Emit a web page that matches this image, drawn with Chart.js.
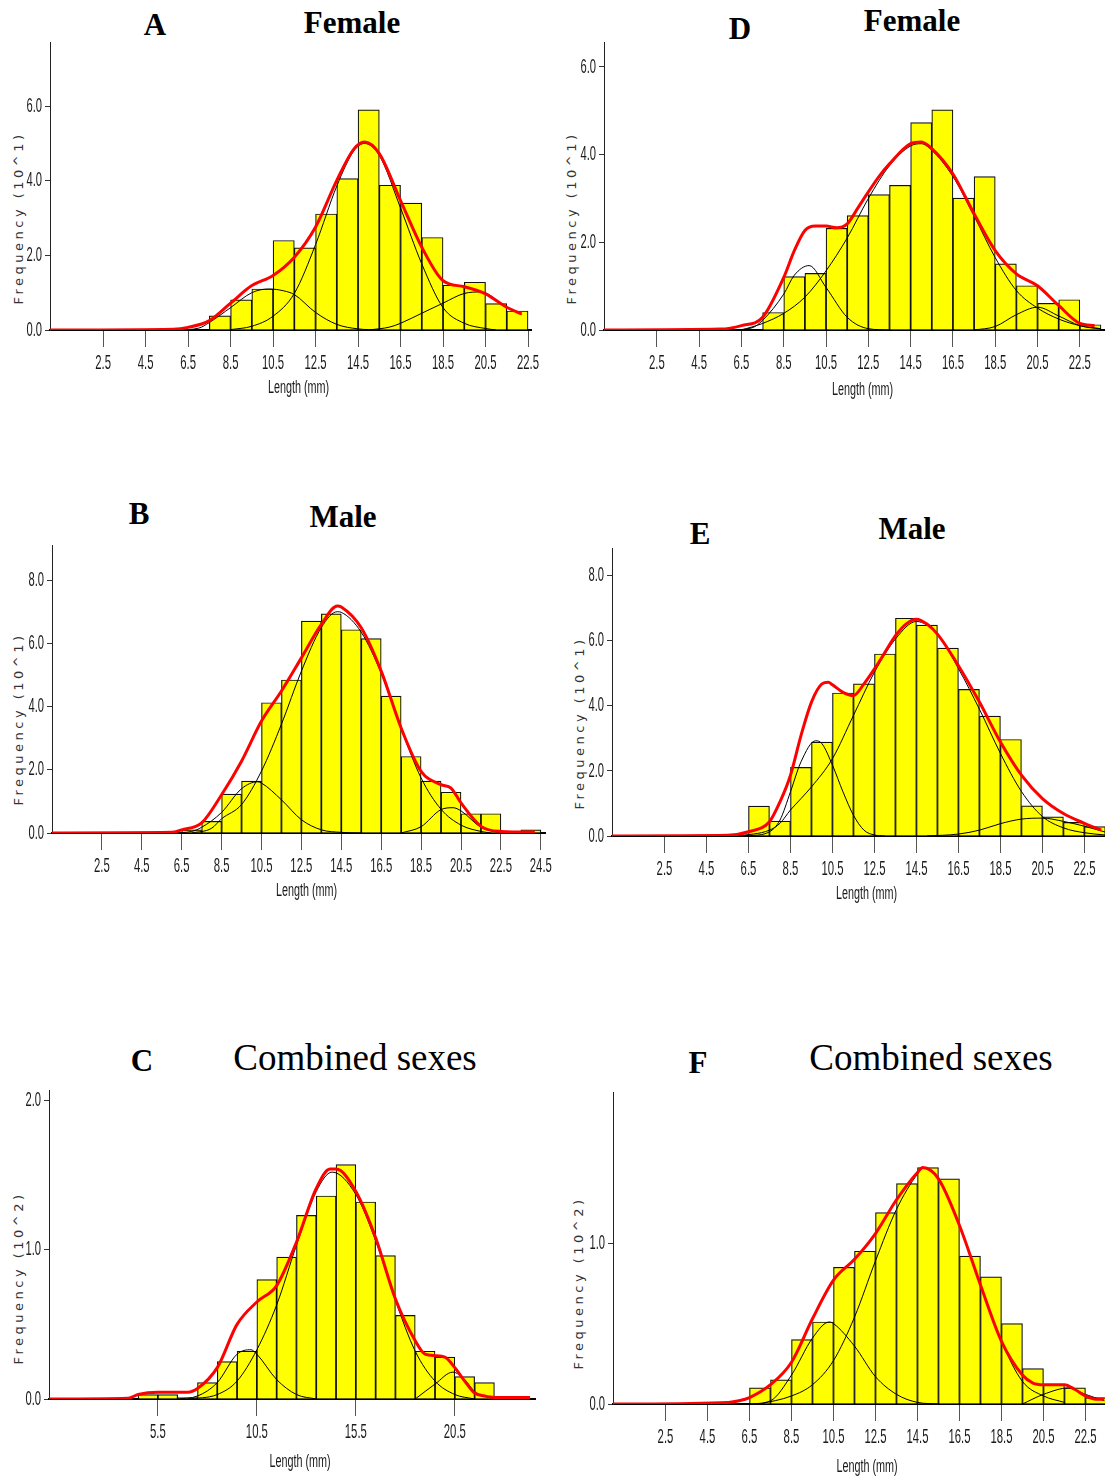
<!DOCTYPE html>
<html lang="en">
<head>
<meta charset="UTF-8">
<title>Length-frequency distributions</title>
<script src="https://cdn.jsdelivr.net/npm/chart.js@4.4.0/dist/chart.umd.min.js"></script>
<style>
  body { margin: 0; width: 1105px; height: 1481px; background: #fff; position: relative; overflow: hidden; }
  canvas { position: absolute; }
  .lbl { position: absolute; font-family: 'Liberation Serif', 'Times New Roman', serif; color: #000;
         transform: translate(-50%, -50%); white-space: nowrap; line-height: 1; }
  .bold { font-weight: bold; font-size: 31px; }
  .comb { font-size: 37px; }
  .ytitle { position: absolute; font-family: 'DejaVu Sans', sans-serif; font-size: 13px; letter-spacing: 3.5px;
            color: #333; transform: translate(-50%, -50%) rotate(-90deg); white-space: nowrap; }
</style>
</head>
<body>
  <!-- panel headings -->
  <div class="lbl bold" style="left:155px;top:24px">A</div>
  <div class="lbl bold" style="left:352px;top:22px">Female</div>
  <div class="lbl bold" style="left:740px;top:28px">D</div>
  <div class="lbl bold" style="left:912px;top:20px">Female</div>
  <div class="lbl bold" style="left:139px;top:513px">B</div>
  <div class="lbl bold" style="left:343px;top:516px">Male</div>
  <div class="lbl bold" style="left:700px;top:533px">E</div>
  <div class="lbl bold" style="left:912px;top:528px">Male</div>
  <div class="lbl bold" style="left:142px;top:1060px">C</div>
  <div class="lbl comb" style="left:355px;top:1057px">Combined sexes</div>
  <div class="lbl bold" style="left:698px;top:1062px">F</div>
  <div class="lbl comb" style="left:931px;top:1057px">Combined sexes</div>

  <div class="ytitle" style="left:18px;top:218px">Frequency (10^1)</div>
  <div class="ytitle" style="left:571px;top:218px">Frequency (10^1)</div>
  <div class="ytitle" style="left:18px;top:719px">Frequency (10^1)</div>
  <div class="ytitle" style="left:579px;top:723px">Frequency (10^1)</div>
  <div class="ytitle" style="left:18px;top:1278px">Frequency (10^2)</div>
  <div class="ytitle" style="left:578px;top:1283px">Frequency (10^2)</div>

  <canvas id="chartA" width="545" height="358" style="left:0;top:42px"></canvas>
  <canvas id="chartD" width="547" height="360" style="left:558px;top:42px"></canvas>
  <canvas id="chartB" width="555" height="358" style="left:0;top:545px"></canvas>
  <canvas id="chartE" width="547" height="358" style="left:558px;top:548px"></canvas>
  <canvas id="chartC" width="545" height="384" style="left:0;top:1090px"></canvas>
  <canvas id="chartF" width="547" height="387" style="left:558px;top:1092px"></canvas>

<script>
// tick labels
const xTicksStd = [2.5, 4.5, 6.5, 8.5, 10.5, 12.5, 14.5, 16.5, 18.5, 20.5, 22.5];
const xTicksLong = [2.5, 4.5, 6.5, 8.5, 10.5, 12.5, 14.5, 16.5, 18.5, 20.5, 22.5, 24.5];
const xTicksComb = [5.5, 10.5, 15.5, 20.5];
const yTicks6 = [0, 2, 4, 6];
const yTicks8 = [0, 2, 4, 6, 8];
const yTicks2 = [0, 1, 2];
const yTicks1 = [0, 1];

// A - female
const aLen = [8, 9, 10, 11, 12, 13, 14, 15, 16, 17, 18, 19, 20, 21, 22];
const aFreq = [0.38, 0.81, 1.10, 2.40, 2.20, 3.11, 4.06, 5.90, 3.88, 3.40, 2.48, 1.20, 1.28, 0.71, 0.51];
const aFit = [[0, 0], [5.8, 0.02], [6.5, 0.07], [7.5, 0.25], [8.5, 0.72], [9.5, 1.19], [10.5, 1.46], [11.5, 1.95],
  [12.5, 2.76], [13.5, 4.01], [14.3, 4.85], [14.8, 5.04], [15.5, 4.73], [16.5, 3.47], [17.5, 2.22], [18.5, 1.32],
  [19.5, 1.16], [20.5, 0.97], [21.5, 0.61], [22.2, 0.43]];
const aMode1 = [[6, 0], [7, 0.05], [7.5, 0.2], [8.5, 0.6], [9.5, 1.0], [10.3, 1.1], [11, 1.05], [11.5, 0.95],
  [12.5, 0.47], [13.5, 0.15], [14.5, 0.03], [15.5, 0]];
const aMode2 = [[8.5, 0.01], [9.5, 0.1], [10.5, 0.37], [11.5, 0.98], [12.5, 2.29], [13.5, 3.86], [14.3, 4.8],
  [14.8, 5.0], [15.5, 4.68], [16.5, 3.27], [17.5, 1.77], [18.5, 0.6], [19.5, 0.18], [20.5, 0.04], [21, 0]];
const aMode3 = [[15, 0], [16, 0.08], [16.5, 0.18], [17.5, 0.45], [18.5, 0.72], [19.5, 0.98], [20.3, 1.02],
  [21.5, 0.6], [22.2, 0.42]];

// D - female
const dLen = [8, 9, 10, 11, 12, 13, 14, 15, 16, 17, 18, 19, 20, 21, 22, 23];
const dFreq = [0.40, 1.22, 1.29, 2.32, 2.61, 3.09, 3.30, 4.73, 5.02, 3.01, 3.50, 1.51, 1.01, 0.61, 0.69, 0.12];
const dFit = [[0, 0], [5.5, 0.02], [6.5, 0.1], [7.5, 0.29], [8.5, 1.2], [9, 1.81], [9.5, 2.27], [10, 2.37],
  [10.5, 2.37], [11, 2.33], [11.5, 2.42], [12, 2.78], [12.5, 3.15], [13, 3.5], [13.5, 3.79], [14.5, 4.25],
  [15, 4.29], [15.5, 4.14], [16.5, 3.56], [17.5, 2.65], [18.5, 1.81], [19.5, 1.28], [20.5, 1.01], [21.5, 0.56],
  [22.5, 0.15], [23.2, 0.1]];
const dMode1 = [[6, 0], [7, 0.05], [7.5, 0.22], [8.5, 0.82], [9, 1.25], [9.7, 1.47], [10.5, 0.97], [11.5, 0.29],
  [12.5, 0.03], [13.5, 0]];
const dMode2 = [[6.5, 0], [7.5, 0.15], [8.5, 0.38], [9.5, 0.75], [10.5, 1.35], [11.5, 2.1], [12.5, 3.0],
  [13.5, 3.75], [14.5, 4.2], [15, 4.25], [15.5, 4.1], [16.5, 3.5], [17.5, 2.6], [18.5, 1.65], [19.5, 0.9],
  [20.5, 0.5], [21.5, 0.25], [22.5, 0.1], [23.5, 0.03]];
const dMode3 = [[17.5, 0], [18.5, 0.08], [19.5, 0.35], [20.5, 0.52], [21.5, 0.32], [22.5, 0.1], [23.5, 0.02]];

// B - male
const bLen = [7, 8, 9, 10, 11, 12, 13, 14, 15, 16, 17, 18, 19, 20, 21, 22, 24];
const bFreq = [0.1, 0.37, 1.23, 1.64, 4.12, 4.84, 6.70, 6.93, 6.43, 6.15, 4.33, 2.42, 1.64, 1.29, 0.61, 0.61, 0.1];
const bFit = [[0, 0], [6, 0.02], [6.5, 0.1], [7.5, 0.32], [8.5, 1.21], [9.5, 2.27], [10.5, 3.54], [11.5, 4.49],
  [12.5, 5.54], [13.5, 6.6], [14.3, 7.18], [14.5, 7.15], [15.5, 6.49], [16.5, 5.12], [17.5, 3.32], [18.5, 1.95],
  [19.5, 1.53], [20, 1.42], [20.5, 0.95], [21.5, 0.21], [22.5, 0.05], [24.2, 0.03]];
const bMode1 = [[6, 0], [7, 0.05], [7.5, 0.18], [8.5, 0.65], [9.5, 1.4], [10.3, 1.62], [10.5, 1.58], [11.5, 1.05],
  [12.5, 0.42], [13.5, 0.1], [14.5, 0.02], [15.5, 0]];
const bMode2 = [[7, 0], [8, 0.15], [8.5, 0.45], [9.5, 0.9], [10.5, 1.96], [11.5, 3.44], [12.5, 5.12], [13.5, 6.5],
  [14.3, 7.0], [14.5, 6.98], [15.5, 6.35], [16.5, 5.05], [17.5, 3.3], [18.5, 1.74], [19.5, 0.75], [20.5, 0.25],
  [21.5, 0.05], [22, 0]];
const bMode3 = [[17.5, 0], [18.5, 0.2], [19.5, 0.74], [20.1, 0.8], [20.5, 0.7], [21.5, 0.18], [22.5, 0]];

// E - male
const eLen = [7, 8, 9, 10, 11, 12, 13, 14, 15, 16, 17, 18, 19, 20, 21, 22, 23];
const eFreq = [0.92, 0.46, 2.11, 2.89, 4.40, 4.68, 5.60, 6.70, 6.49, 5.78, 4.51, 3.69, 2.97, 0.93, 0.59, 0.42, 0.29];
const eFit = [[0, 0], [5.5, 0.02], [6.5, 0.13], [7.5, 0.44], [8, 1.05], [8.5, 1.87], [9, 3.09], [9.5, 4.12],
  [10, 4.68], [10.3, 4.73], [10.5, 4.65], [11, 4.42], [11.5, 4.32], [12, 4.68], [12.5, 5.14], [13, 5.65],
  [13.5, 6.16], [14, 6.52], [14.5, 6.67], [15, 6.52], [15.5, 6.21], [16.5, 5.24], [17.5, 4.12], [18.5, 2.89],
  [19.5, 1.87], [20.5, 1.15], [21.5, 0.69], [22.5, 0.39], [23.3, 0.18]];
const eMode1 = [[6.5, 0], [7.5, 0.13], [8, 0.49], [8.5, 1.36], [9, 2.28], [9.7, 2.93], [10, 2.84], [10.5, 2.18],
  [11, 1.36], [11.5, 0.64], [12, 0.18], [12.5, 0.03], [13, 0]];
const eMode2 = [[6, 0], [7.5, 0.18], [8, 0.39], [8.5, 0.8], [9, 1.15], [9.5, 1.51], [10.5, 2.38], [11.5, 3.71],
  [12.5, 5.04], [13.5, 6.06], [14.5, 6.6], [15.5, 6.2], [16.5, 5.15], [17.5, 3.9], [18.5, 2.54], [19.5, 1.37],
  [20.5, 0.6], [21.5, 0.25], [22.5, 0.1], [23.5, 0.03]];
const eMode3 = [[15, 0], [16.5, 0.06], [17.5, 0.18], [18.5, 0.38], [19.5, 0.52], [20.5, 0.55], [21.5, 0.45],
  [22.5, 0.3], [23.5, 0.12]];

// C - combined sexes (x10^2)
const cLen = [5, 6, 7, 8, 9, 10, 11, 12, 13, 14, 15, 16, 17, 18, 19, 20, 21, 22];
const cFreq = [0.03, 0.03, 0.01, 0.11, 0.25, 0.32, 0.80, 0.95, 1.23, 1.36, 1.57, 1.32, 0.96, 0.56, 0.32, 0.28, 0.15, 0.11];
const cFit = [[0, 0], [4, 0.005], [4.5, 0.03], [5.5, 0.045], [7, 0.045], [7.5, 0.07], [8.5, 0.21], [9.5, 0.5],
  [10.5, 0.65], [11.5, 0.76], [12.5, 1.05], [13.5, 1.41], [14.2, 1.54], [14.5, 1.54], [15.5, 1.39], [16.5, 1.08],
  [17.5, 0.67], [18.5, 0.39], [19, 0.3], [19.5, 0.29], [20, 0.28], [20.5, 0.21], [21, 0.12], [21.5, 0.04],
  [22, 0.02], [22.5, 0.01], [24.3, 0.01]];
const cMode1 = [[6.5, 0], [7.5, 0.02], [8.5, 0.11], [9.5, 0.3], [10.2, 0.33], [10.5, 0.3], [11.5, 0.13],
  [12.5, 0.03], [13.5, 0]];
const cMode2 = [[7, 0], [8.5, 0.03], [9.5, 0.12], [10.5, 0.33], [11.5, 0.63], [12.5, 1.03], [13.5, 1.39],
  [14.3, 1.52], [15.5, 1.37], [16.5, 1.06], [17.5, 0.66], [18.5, 0.32], [19.5, 0.12], [20.5, 0.03], [21.5, 0]];
const cMode3 = [[18.5, 0], [19.5, 0.1], [20.4, 0.18], [21, 0.13], [21.5, 0.05], [22.5, 0]];

// F - combined sexes (x10^2)
const fLen = [7, 8, 9, 10, 11, 12, 13, 14, 15, 16, 17, 18, 19, 20, 21, 22, 23];
const fFreq = [0.10, 0.15, 0.40, 0.51, 0.85, 0.95, 1.19, 1.37, 1.47, 1.40, 0.92, 0.79, 0.50, 0.22, 0.12, 0.10, 0.04];
const fFit = [[0, 0], [5.5, 0.01], [6, 0.02], [6.5, 0.04], [7.5, 0.12], [8.5, 0.26], [9.5, 0.53], [10.5, 0.77],
  [11.5, 0.9], [12.5, 1.06], [13.5, 1.27], [14.5, 1.44], [14.75, 1.47], [15.5, 1.40], [16.5, 1.11], [17.5, 0.74],
  [18.5, 0.39], [19.5, 0.18], [20, 0.13], [20.5, 0.12], [21.5, 0.12], [22, 0.09], [22.5, 0.05], [23, 0.03],
  [23.4, 0.03]];
const fMode1 = [[6.5, 0], [7.5, 0.02], [8.5, 0.18], [9.5, 0.41], [10.3, 0.51], [10.5, 0.5], [11.5, 0.36],
  [12.5, 0.17], [13.5, 0.06], [14.5, 0.01], [15.5, 0]];
const fMode2 = [[7, 0], [8.5, 0.05], [9.5, 0.12], [10.5, 0.27], [11.5, 0.54], [12.5, 0.89], [13.5, 1.21],
  [14.5, 1.43], [14.8, 1.47], [15.5, 1.4], [16.5, 1.11], [17.5, 0.74], [18.5, 0.39], [19.5, 0.14], [20.5, 0.05],
  [21.5, 0.01]];
const fMode3 = [[19.5, 0], [20.5, 0.06], [21.7, 0.1], [22.5, 0.06], [23.4, 0.02]];

function pts(arr) {
  return arr.map(p => ({ x: p[0], y: p[1] }));
}

function curve(arr, color, width, order) {
  return {
    type: 'line', data: pts(arr), borderColor: color, borderWidth: width,
    pointRadius: 0, cubicInterpolationMode: 'monotone', order: order
  };
}

// tall, squeezed axis text (canvas text scaled horizontally)
function axisText(ax) {
  return {
    id: 'axisText',
    afterDraw(chart) {
      const ctx = chart.ctx, xs = chart.scales.x, ys = chart.scales.y, area = chart.chartArea;
      const put = (txt, x, y, size, squeeze, align) => {
        ctx.save();
        ctx.translate(x, y);
        ctx.scale(squeeze, 1);
        ctx.font = size + 'px "Liberation Sans", Arial, sans-serif';
        ctx.fillStyle = '#1a1a1a';
        ctx.textAlign = align;
        ctx.textBaseline = 'middle';
        ctx.fillText(txt, 0, 0);
        ctx.restore();
      };
      ax.xTicks.forEach(v => put(v.toFixed(1), xs.getPixelForValue(v), xs.top + 33, 21, 0.54, 'center'));
      ax.yTicks.forEach(v => put(v.toFixed(1), ys.right - 8, ys.getPixelForValue(v), 20, 0.56, 'right'));
      put('Length (mm)', (area.left + area.right) / 2 + 8, xs.top + ax.titleDy, 18, 0.6, 'center');
    }
  };
}

// axisW / axisH: space taken by the y and x scales inside each canvas
function histogram(id, len, freq, fit, modes, ax) {
  new Chart(document.getElementById(id), {
    type: 'bar',
    data: {
      datasets: [
        curve(fit, '#ff0000', 3, 0),
        ...modes.map(m => curve(m, '#000', 1, 1)),
        {
          type: 'bar',
          data: len.map((v, i) => ({ x: v, y: freq[i] })),
          backgroundColor: '#ffff00',
          borderColor: '#111',
          borderWidth: 1.2,
          barPercentage: 1,
          categoryPercentage: 1,
          order: 2
        }
      ]
    },
    options: {
      responsive: false,
      animation: false,
      devicePixelRatio: 1,
      layout: { padding: { right: ax.padR } },
      plugins: { legend: { display: false }, tooltip: { enabled: false } },
      scales: {
        x: {
          type: 'linear', min: 0, max: ax.xMax, offset: false,
          afterBuildTicks: s => { s.ticks = ax.xTicks.map(v => ({ value: v })); },
          afterFit: s => { s.height = ax.axisH; s.paddingLeft = 0; s.paddingRight = 0; },
          grid: { drawOnChartArea: false, offset: false, tickLength: 17, color: '#555' },
          border: { color: '#000', width: 2 },
          ticks: { display: false }
        },
        y: {
          min: 0, max: ax.yMax,
          afterBuildTicks: s => { s.ticks = ax.yTicks.map(v => ({ value: v })); },
          afterFit: s => { s.width = ax.axisW; s.paddingTop = 0; s.paddingBottom = 0; },
          grid: { drawOnChartArea: false, tickLength: 5, color: '#333' },
          border: { color: '#222', width: 1 },
          ticks: { display: false }
        }
      }
    },
    plugins: [axisText(ax)]
  });
}

histogram('chartA', aLen, aFreq, aFit, [aMode1, aMode2, aMode3],
  { axisW: 50, axisH: 70, padR: 14, titleDy: 58, xMax: 22.64, yMax: 7.72, xTicks: xTicksStd, yTicks: yTicks6 });
histogram('chartD', dLen, dFreq, dFit, [dMode1, dMode2, dMode3],
  { axisW: 46, axisH: 72, padR: 0, titleDy: 60, xMax: 23.69, yMax: 6.57, xTicks: xTicksStd, yTicks: yTicks6 });
histogram('chartB', bLen, bFreq, bFit, [bMode1, bMode2, bMode3],
  { axisW: 52, axisH: 70, padR: 10, titleDy: 58, xMax: 24.71, yMax: 9.11, xTicks: xTicksLong, yTicks: yTicks8 });
histogram('chartE', eLen, eFreq, eFit, [eMode1, eMode2, eMode3],
  { axisW: 54, axisH: 70, padR: 0, titleDy: 58, xMax: 23.48, yMax: 8.86, xTicks: xTicksStd, yTicks: yTicks8 });
histogram('chartC', cLen, cFreq, cFit, [cMode1, cMode2, cMode3],
  { axisW: 49, axisH: 75, padR: 10, titleDy: 63, xMax: 24.55, yMax: 2.07, xTicks: xTicksComb, yTicks: yTicks2 });
histogram('chartF', fLen, fFreq, fFit, [fMode1, fMode2, fMode3],
  { axisW: 55, axisH: 75, padR: 0, titleDy: 63, xMax: 23.43, yMax: 1.94, xTicks: xTicksStd, yTicks: yTicks1 });
</script>
</body>
</html>
